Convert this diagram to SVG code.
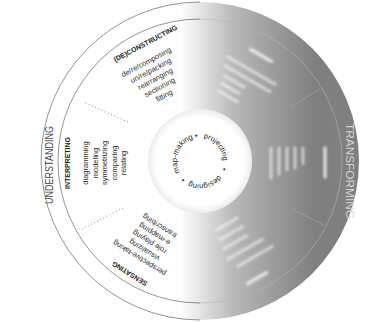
<svg xmlns="http://www.w3.org/2000/svg" width="370" height="323" viewBox="0 0 370 323">
<defs>
<linearGradient id="shade" gradientUnits="userSpaceOnUse" x1="180" y1="0" x2="315" y2="0">
<stop offset="0" stop-color="#ffffff"/>
<stop offset="0.4" stop-color="#b8b8b8"/>
<stop offset="1" stop-color="#7f7f7f"/>
</linearGradient>
<radialGradient id="hub" cx="0.5" cy="0.5" r="0.5">
<stop offset="0.85" stop-color="#ffffff"/>
<stop offset="1" stop-color="#ececec"/>
</radialGradient>
<filter id="blur" filterUnits="userSpaceOnUse" x="0" y="0" width="400" height="400"><feGaussianBlur stdDeviation="1"/></filter>
<path id="ringpath" d="M181.16,174.19 A23,23 0 1,1 218.84,147.81 A23,23 0 1,1 181.16,174.19"/>
<style>
.h{font-family:"Liberation Sans",Arial,sans-serif;font-size:7px;font-weight:bold;fill:#222;text-anchor:middle}
.it{font-family:"Liberation Sans",Arial,sans-serif;font-size:7.5px;fill:#2a2a2a;text-anchor:middle}
.big{font-family:"Liberation Sans",Arial,sans-serif;font-size:11px;text-anchor:middle}
.rt{font-family:"Liberation Sans",Arial,sans-serif;font-size:7.5px;fill:#222;text-anchor:middle}
.bar{stroke:#ffffff;stroke-width:2.8;stroke-linecap:round;opacity:0.55;filter:url(#blur)}
.barh{stroke:#ffffff;stroke-width:3.4;stroke-linecap:round;opacity:0.7;filter:url(#blur)}
</style>
</defs>
<rect width="370" height="323" fill="#ffffff"/>
<g id="disc">
<circle cx="200" cy="161" r="159" fill="url(#shade)"/>
<path d="M200,2 A159,159 0 0,0 200,320" fill="none" stroke="#777" stroke-width="0.8"/>
<path d="M200,19 A142,142 0 0,0 200,303" fill="none" stroke="#666" stroke-width="0.7"/>
<path d="M200,19 A142,142 0 0,1 200,303" fill="none" stroke="#b4b4b4" stroke-width="0.6"/>
<circle cx="200" cy="161" r="52" fill="url(#hub)"/>
</g>
<g id="connectors" fill="none">
<line x1="128" y1="122" x2="83" y2="102" stroke="#666" stroke-width="0.8" stroke-dasharray="1 2.5"/>
<line x1="123" y1="208" x2="80" y2="230" stroke="#666" stroke-width="0.8" stroke-dasharray="1 2.5"/>
<line x1="290" y1="107" x2="320" y2="89" stroke="#a8a8a8" stroke-width="0.6"/>
<line x1="292" y1="209" x2="324" y2="225" stroke="#a8a8a8" stroke-width="0.6"/>
</g>
<g id="understanding">
<text class="big" fill="#444" transform="rotate(-90 200 161)" x="196" y="14" textLength="78" lengthAdjust="spacingAndGlyphs">UNDERSTANDING</text>
</g>
<g id="transforming">
<text class="big" fill="#d4d4d4" transform="rotate(90 200 161)" x="210" y="15" textLength="96" lengthAdjust="spacingAndGlyphs">TRANSFORMING</text>
</g>
<g id="interpreting" transform="rotate(-90 200 161)">
<text class="h" x="198" y="30.5">INTERPRETING</text>
<text class="it" x="198" y="49">diagramming</text>
<text class="it" x="198" y="58.5">modeling</text>
<text class="it" x="198" y="68">symmetrizing</text>
<text class="it" x="198" y="77.5">comparing</text>
<text class="it" x="198" y="87">relating</text>
</g>
<g id="deconstructing" transform="rotate(-28 200 161)">
<text class="h" x="207" y="34">(DE)CONSTRUCTING</text>
<text class="it" x="199" y="51">de/re/composing</text>
<text class="it" x="199" y="60.5">un/re/packing</text>
<text class="it" x="199" y="70">rearranging</text>
<text class="it" x="199" y="79.5">sectioning</text>
<text class="it" x="199" y="89">fitting</text>
</g>
<g id="sensating" transform="rotate(212 200 161)">
<text class="h" x="200" y="30.5">SENSATING</text>
<text class="it" x="200" y="49">perspective-taking</text>
<text class="it" x="200" y="58.5">visualizing</text>
<text class="it" x="200" y="68">role playing</text>
<text class="it" x="200" y="77.5">e-mapping</text>
<text class="it" x="200" y="87">transcribing</text>
</g>
<g id="transform-upper" transform="rotate(30 200 161)">
<line class="barh" x1="188" y1="39" x2="212" y2="39"/>
<line class="bar" x1="172" y1="57" x2="227" y2="57"/>
<line class="bar" x1="174" y1="66" x2="226" y2="66"/>
<line class="bar" x1="179" y1="75" x2="201" y2="75"/>
<line class="bar" x1="180" y1="83" x2="200" y2="83"/>
<line class="bar" x1="181" y1="91" x2="203" y2="91"/>
</g>
<g id="transform-right" transform="rotate(90 200 161)">
<line class="barh" x1="187" y1="36" x2="216" y2="36"/>
<line class="bar" x1="187" y1="58" x2="203" y2="58"/>
<line class="bar" x1="187" y1="66" x2="207" y2="66"/>
<line class="bar" x1="187" y1="74" x2="209" y2="74"/>
<line class="bar" x1="187" y1="82" x2="213" y2="82"/>
<line class="bar" x1="187" y1="90" x2="217" y2="90"/>
</g>
<g id="transform-lower" transform="rotate(150 200 161)">
<line class="barh" x1="198" y1="31" x2="220" y2="31"/>
<line class="bar" x1="180" y1="51" x2="220" y2="51"/>
<line class="bar" x1="185" y1="62" x2="225" y2="62"/>
<line class="bar" x1="197" y1="73" x2="223" y2="73"/>
<line class="bar" x1="196" y1="83" x2="222" y2="83"/>
<line class="bar" x1="196" y1="93" x2="220" y2="93"/>
</g>
<g id="hub-text">
<text class="rt"><textPath href="#ringpath" startOffset="23">map-making</textPath></text>
<text class="rt"><textPath href="#ringpath" startOffset="47">•</textPath></text>
<text class="rt"><textPath href="#ringpath" startOffset="70">projecting</textPath></text>
<text class="rt"><textPath href="#ringpath" startOffset="94">•</textPath></text>
<text class="rt"><textPath href="#ringpath" startOffset="117.5">designing</textPath></text>
<text class="rt"><textPath href="#ringpath" startOffset="139">•</textPath></text>
</g>
</svg>
